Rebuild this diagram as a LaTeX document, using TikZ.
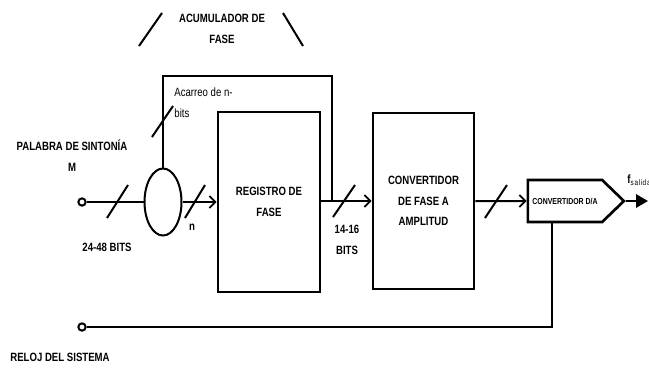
\documentclass[tikz,border=0pt]{standalone}
\usepackage{fontspec}
\setmainfont{Liberation Sans}[FakeStretch=0.8]
\usetikzlibrary{arrows.meta,positioning,shapes.geometric,shapes.symbols}

\begin{document}
\begin{tikzpicture}[x=0.75pt, y=-0.75pt, line width=1.5pt,
    every node/.style={font=\fontsize{9}{15.5}\selectfont\bfseries, align=center},
    blk/.style={draw, rectangle, line width=2pt},
    pin/.style={draw, circle, inner sep=0pt, minimum size=5.5pt, fill=white},
    barb/.style={-{Straight Barb[length=4.5pt, width=9pt, line width=1.3pt]}}]
      \useasboundingbox (0,0) rectangle (649,369);
      % bloques
      \node[pin] (in) at (82,202) {};
      \node[pin] (clk) at (82,327) {};
      \node[draw, ellipse, minimum width=27.75pt, minimum height=50.25pt] (sum) at (163,202) {};
      \node[blk, minimum width=76.5pt, minimum height=135pt] (reg) at (269,202) {REGISTRO DE\\FASE};
      \node[blk, minimum width=75.75pt, minimum height=132pt] (conv) at (423.5,201) {CONVERTIDOR\\DE FASE A\\AMPLITUD};
      \node[draw, signal, signal to=east, signal pointer angle=88, line width=2pt,
            minimum width=72pt, minimum height=31.5pt, inner sep=0pt,
            font=\fontsize{6.5}{8}\selectfont\bfseries] (dac) at (565,201) {CONVERTIDOR D/A};
      \coordinate (fbtop) at (332,76);
      \coordinate (fb) at (332,202);
      \coordinate (clkup) at (552,327);
      \coordinate (out) at (648,201);
      % conexiones
      \draw (in) -- (sum);
      \draw[barb] (sum) -- (reg);
      \draw (sum.north) |- (fbtop) -- (fb);
      \draw[barb] (reg.east |- conv.west) -- (conv);
      \draw[barb] (conv) -- (dac);
      \draw[-{Triangle[length=9pt, width=10pt]}] (dac.east) -- (out);
      \draw (clk) -- (clkup) -- (clkup |- dac.south);
      % marcas de bus
      \draw (107,218) -- (128,185);
      \draw (185,218) -- (205,185);
      \draw (152,137) -- (173,106);
      \draw (333,217) -- (355,185);
      \draw (485,218) -- (507,185);
      \draw (139,46) -- (162,13);
      \draw (283,13) -- (303,46);
      % etiquetas
      \node (acum) at (222,29) {ACUMULADOR DE\\FASE};
      \node[anchor=west, align=left, font=\fontsize{9}{15.5}\selectfont] (carry) at (169,103) {Acarreo de n-\\bits};
      \node (word) at (72,156) {PALABRA DE SINTONÍA\\M};
      \node (wbits) at (107,247) {24-48 BITS};
      \node (nlab) at (192,227) {n};
      \node (pbits) at (347,240) {14-16\\BITS};
      \node (reloj) at (60,357) {RELOJ DEL SISTEMA};
      \node[anchor=west] (fout) at (622,180) {f$_{\mathrm{salida}}$};
    \end{tikzpicture}
\end{document}
